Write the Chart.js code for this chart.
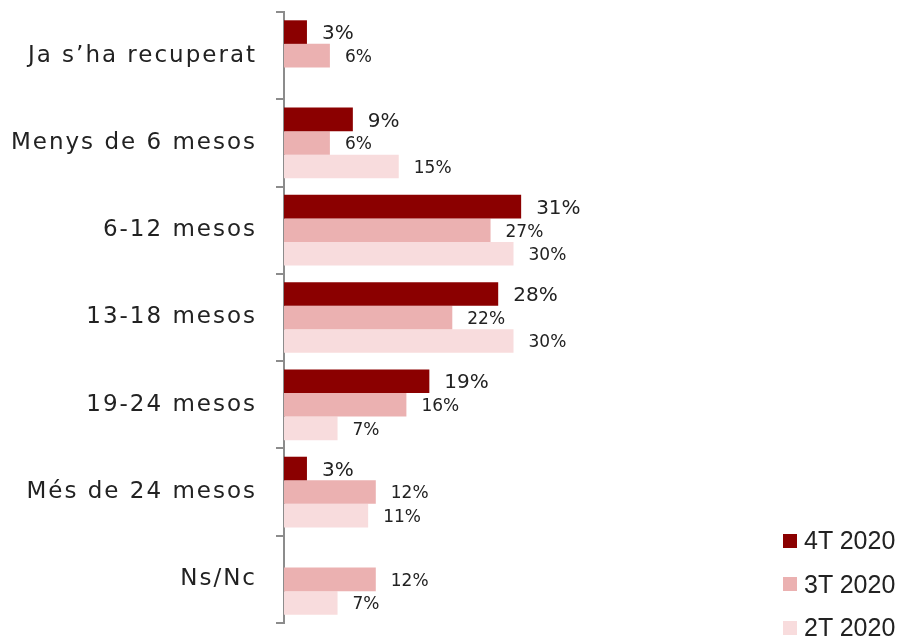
<!DOCTYPE html>
<html>
<head>
<meta charset="utf-8">
<script src="https://cdn.jsdelivr.net/npm/chart.js@4"></script>
<style>
  html,body{margin:0;padding:0;background:#fff;overflow:hidden;}
  #wrap{position:relative;width:901px;height:640px;overflow:hidden;}
  #legend{position:absolute;left:783px;top:519px;font-family:"Liberation Sans",Arial,sans-serif;font-size:25px;color:#222;}
  #legend .it{display:flex;align-items:center;height:43.5px;white-space:nowrap;}
  #legend .sw{width:14px;height:14px;margin-right:7px;}
</style>
</head>
<body>
<div id="wrap">
<canvas id="c" width="901" height="640"></canvas>
<div id="legend"></div>
</div>
<script>
const categories = ["Ja s\u2019ha recuperat","Menys de 6 mesos","6-12 mesos","13-18 mesos","19-24 mesos","Més de 24 mesos","Ns/Nc"];
const seriesNames = ["4T 2020","3T 2020","2T 2020"];
const s4T = [3, 9, 31, 28, 19, 3, null];
const s3T = [6, 6, 27, 22, 16, 12, 12];
const s2T = [null, 15, 30, 30, 7, 11, 7];
const colors = ["#8B0000","#EBB1B1","#F8DCDD"];
const labelFontSizes = [20, 17, 17];

const FONT = '"DejaVu Sans",sans-serif';

const spacing = {
  id:'spacing',
  beforeDraw(chart){ chart.ctx.letterSpacing = '2px'; },
  beforeDatasetsDraw(chart){ chart.ctx.letterSpacing = '0px'; }
};

const valueLabels = {
  id:'valueLabels',
  afterDatasetsDraw(chart){
    const ctx = chart.ctx;
    chart.data.datasets.forEach((ds, di) => {
      const meta = chart.getDatasetMeta(di);
      meta.data.forEach((el, i) => {
        const v = ds.data[i];
        if (v === null || v === undefined) return;
        ctx.save();
        ctx.letterSpacing = '0px';
        ctx.font = labelFontSizes[di] + 'px ' + FONT;
        ctx.fillStyle = '#222';
        ctx.textAlign = 'left';
        ctx.textBaseline = 'middle';
        ctx.fillText(v + '%', el.x + 15, el.y + 2);
        ctx.restore();
      });
    });
  }
};

const datasets = [s4T, s3T, s2T].map((d, i) => ({
  label: seriesNames[i],
  data: d,
  backgroundColor: colors[i],
  borderWidth: 0,
  categoryPercentage: 0.81,
  barPercentage: 1.0
}));

new Chart(document.getElementById('c'), {
  type: 'bar',
  data: { labels: categories, datasets },
  options: {
    indexAxis: 'y',
    responsive: false,
    animation: false,
    layout: { padding: { top: 12, bottom: 17, right: 5, left: 0 } },
    plugins: { legend: { display: false }, tooltip: { enabled: false } },
    scales: {
      x: { display: false, min: 0, max: 80 },
      y: {
        afterFit(scale){ scale.width = 284; scale.paddingTop = 0; scale.paddingBottom = 0; },
        grid: { offset: true, drawOnChartArea: false, drawTicks: true, tickLength: 8, color: '#8c8c8c', lineWidth: 2 },
        border: { display: true, color: '#8c8c8c', width: 2 },
        ticks: { color: '#222', padding: 19, font: { family: FONT, size: 23 } }
      }
    }
  },
  plugins: [spacing, valueLabels]
});

const lg = document.getElementById('legend');
seriesNames.forEach((n, i) => {
  const it = document.createElement('div');
  it.className = 'it';
  it.innerHTML = '<div class="sw" style="background:' + colors[i] + '"></div><span>' + n + '</span>';
  lg.appendChild(it);
});
</script>
</body>
</html>
